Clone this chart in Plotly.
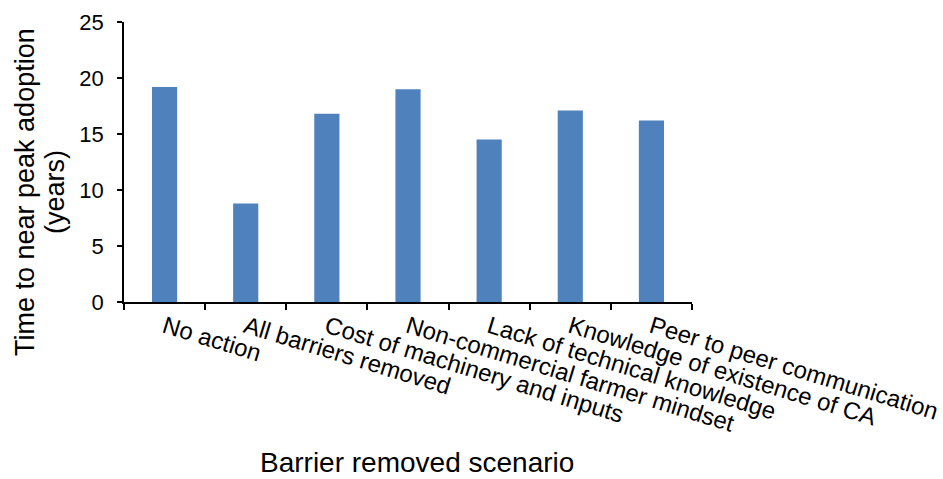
import plotly.graph_objects as go

scenarios = [
    "No action",
    "All barriers removed",
    "Cost of machinery and inputs",
    "Non-commercial farmer mindset",
    "Lack of technical knowledge",
    "Knowledge of existence of CA",
    "Peer to peer communication",
]
years_to_peak = [19.2, 8.8, 16.8, 19.0, 14.5, 17.1, 16.2]
y_ticks = [0, 5, 10, 15, 20, 25]

font_family = "Liberation Sans, Arial, sans-serif"

# plot area in pixels
L, R, T, B = 124, 251, 22, 177
W, H = 943, 479
plot_w = W - L - R
plot_h = H - T - B


def px_to_paper_x(px):
    return (px - L) / plot_w


def px_to_paper_y(py):
    return (H - B - py) / plot_h


fig = go.Figure(
    go.Bar(
        x=scenarios,
        y=years_to_peak,
        marker=dict(color="#4f81bd", line=dict(width=0)),
        width=0.31,
    )
)

fig.update_layout(
    width=W,
    height=H,
    margin=dict(l=L, r=R, t=T, b=B, autoexpand=False),
    plot_bgcolor="white",
    paper_bgcolor="white",
    showlegend=False,
    font=dict(family=font_family, size=22, color="black"),
)

fig.update_xaxes(
    tickangle=17,
    automargin=False,
    showline=True,
    linecolor="black",
    linewidth=1.5,
    ticks="outside",
    tickson="boundaries",
    ticklen=6,
    tickwidth=1.5,
    tickcolor="black",
    showgrid=False,
    tickfont=dict(size=24),
)

fig.update_yaxes(
    range=[0, 25],
    tickvals=y_ticks,
    automargin=False,
    showline=True,
    linecolor="black",
    linewidth=1.5,
    ticks="outside",
    ticklen=5,
    tickwidth=1.5,
    tickcolor="black",
    ticklabelstandoff=9,
    showgrid=False,
    zeroline=False,
    tickfont=dict(size=22),
)

# axis titles
title_font = dict(family=font_family, size=27, color="black")
fig.add_annotation(
    text="Barrier removed scenario",
    xref="paper", yref="paper",
    x=px_to_paper_x(417), y=px_to_paper_y(479),
    xanchor="center", yanchor="bottom", borderpad=0,
    showarrow=False, font=dict(family=font_family, size=28, color="black"),
)
fig.add_annotation(
    text="Time to near peak adoption",
    xref="paper", yref="paper",
    x=px_to_paper_x(25), y=px_to_paper_y(192),
    xanchor="center", yanchor="middle", textangle=-90,
    showarrow=False, font=title_font,
)
fig.add_annotation(
    text="(years)",
    xref="paper", yref="paper",
    x=px_to_paper_x(55), y=px_to_paper_y(192),
    xanchor="center", yanchor="middle", textangle=-90,
    showarrow=False, font=title_font,
)

fig.write_html("out.html")
